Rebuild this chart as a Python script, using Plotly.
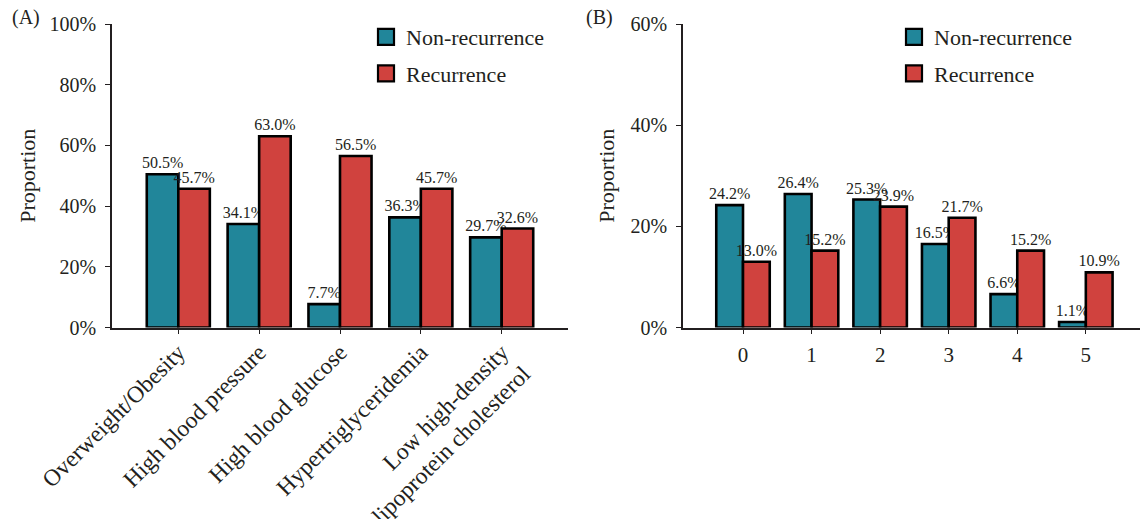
import plotly.graph_objects as go

# ---------------- data ----------------
factors = ["Overweight/Obesity", "High blood pressure", "High blood glucose",
           "Hypertriglyceridemia", "Low high-density<br>lipoprotein cholesterol"]
a_non_recurrence = [50.5, 34.1, 7.7, 36.3, 29.7]
a_recurrence = [45.7, 63.0, 56.5, 45.7, 32.6]

counts = ["0", "1", "2", "3", "4", "5"]
b_non_recurrence = [24.2, 26.4, 25.3, 16.5, 6.6, 1.1]
b_recurrence = [13.0, 15.2, 23.9, 21.7, 15.2, 10.9]

series_names = ["Non-recurrence", "Recurrence"]
a_ticks = [0, 20, 40, 60, 80, 100]
a_tick_labels = ["0%", "20%", "40%", "60%", "80%", "100%"]
b_ticks = [0, 20, 40, 60]
b_tick_labels = ["0%", "20%", "40%", "60%"]

# ---------------- style ----------------
W, H = 1140, 519
FONT = "Liberation Serif"
TXT = "#231f20"
COLORS = ["#21869a", "#d0423e"]

def px_x(p):
    return p / W

def px_y(p):
    return 1 - p / H

fig = go.Figure()

def add_bars(cats, vals, name, color, xa, ya):
    fig.add_trace(go.Bar(
        x=cats, y=vals, name=name, xaxis=xa, yaxis=ya,
        marker=dict(color=color, line=dict(color="black", width=2.6)),
        text=[f"{v:.1f}%" for v in vals], textposition="outside",
        textfont=dict(family=FONT, size=16, color=TXT),
        constraintext="none", cliponaxis=False, showlegend=False,
    ))

def add_legend_entry(name, color, xa, ya, legend, group):
    fig.add_trace(go.Scatter(
        x=[None], y=[None], mode="markers", name=name, xaxis=xa, yaxis=ya,
        marker=dict(symbol="square", size=20, color=color,
                    line=dict(color="black", width=2.2)),
        legend=legend, legendgroup=group, showlegend=True,
    ))

add_bars(factors, a_non_recurrence, series_names[0], COLORS[0], "x", "y")
add_bars(factors, a_recurrence, series_names[1], COLORS[1], "x", "y")
add_bars(counts, b_non_recurrence, series_names[0], COLORS[0], "x2", "y2")
add_bars(counts, b_recurrence, series_names[1], COLORS[1], "x2", "y2")

add_legend_entry(series_names[0], COLORS[0], "x", "y", "legend", "a0")
add_legend_entry(series_names[1], COLORS[1], "x", "y", "legend", "a1")
add_legend_entry(series_names[0], COLORS[0], "x2", "y2", "legend2", "b0")
add_legend_entry(series_names[1], COLORS[1], "x2", "y2", "legend2", "b1")

y_dom = [px_y(327.5), px_y(24)]

axis_common = dict(
    showgrid=False, zeroline=False, showline=True, linecolor=TXT, linewidth=1.5,
    ticks="outside", ticklen=5, tickwidth=1.3, tickcolor=TXT, automargin=False,
)

fig.update_layout(
    width=W, height=H,
    margin=dict(l=0, r=0, t=0, b=0),
    paper_bgcolor="white", plot_bgcolor="white",
    barmode="group", bargap=0.22, bargroupgap=0.0,
    font=dict(family=FONT, color=TXT),
    xaxis=dict(domain=[px_x(112), px_x(568)], range=[-0.82, 4.82],
               tickangle=-45, tickfont=dict(size=23.5, family=FONT, color=TXT),
               ticklabelstandoff=-5, anchor="y", **axis_common),
    yaxis=dict(domain=y_dom, range=[0, 100], tickmode="array",
               tickvals=a_ticks, ticktext=a_tick_labels,
               tickfont=dict(size=20, family=FONT, color=TXT), ticklabelstandoff=5,
               title=dict(text="Proportion", font=dict(size=22, family=FONT, color=TXT), standoff=8),
               anchor="x", **axis_common),
    xaxis2=dict(domain=[px_x(683), 1.0], range=[-0.875, 5.79],
                tickfont=dict(size=21, family=FONT, color=TXT), ticklabelstandoff=3,
                anchor="y2", **axis_common),
    yaxis2=dict(domain=y_dom, range=[0, 60], tickmode="array",
                tickvals=b_ticks, ticktext=b_tick_labels,
                tickfont=dict(size=20, family=FONT, color=TXT), ticklabelstandoff=5,
                title=dict(text="Proportion", font=dict(size=22, family=FONT, color=TXT), standoff=10),
                anchor="x2", **axis_common),
    legend=dict(x=px_x(366), y=px_y(16), xanchor="left", yanchor="top",
                font=dict(size=22, family=FONT, color=TXT), itemsizing="trace",
                tracegroupgap=5, bgcolor="rgba(0,0,0,0)", itemwidth=30),
    legend2=dict(x=px_x(894), y=px_y(16), xanchor="left", yanchor="top",
                 font=dict(size=22, family=FONT, color=TXT), itemsizing="trace",
                 tracegroupgap=5, bgcolor="rgba(0,0,0,0)", itemwidth=30),
    annotations=[
        dict(text="(A)", x=px_x(10), y=px_y(18), xref="paper", yref="paper",
             xanchor="left", yanchor="middle", showarrow=False,
             font=dict(size=20, family=FONT, color=TXT)),
        dict(text="(B)", x=px_x(584), y=px_y(18), xref="paper", yref="paper",
             xanchor="left", yanchor="middle", showarrow=False,
             font=dict(size=20, family=FONT, color=TXT)),
    ],
)

fig.write_html("out.html", config={"displayModeBar": False},
               post_script="document.body.style.margin='0';")
